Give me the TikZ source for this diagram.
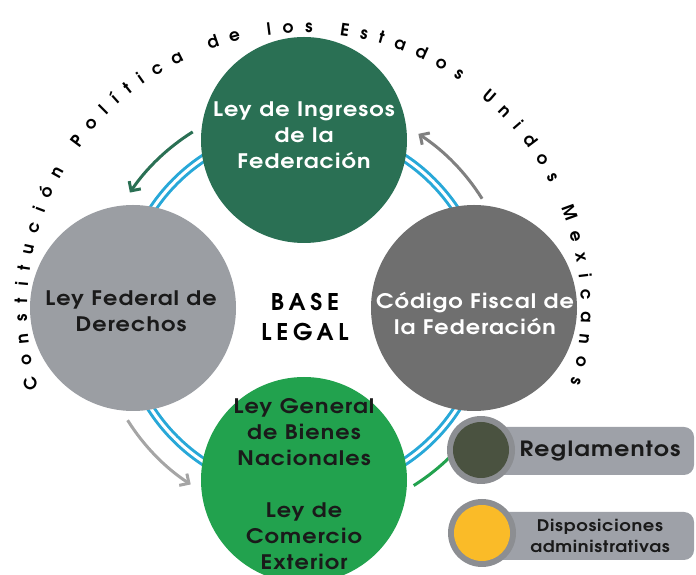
\documentclass[tikz,border=0pt]{standalone}
\usepackage{fontspec}
\setmainfont{texgyreadventor}[Extension=.otf,UprightFont=*-regular,BoldFont=*-bold,ItalicFont=*-italic,BoldItalicFont=*-bolditalic]
\usetikzlibrary{decorations.text,arrows.meta}
\definecolor{topgreen}{HTML}{2A7054}
\definecolor{leftgrey}{HTML}{9B9EA3}
\definecolor{rightgrey}{HTML}{6F6F6F}
\definecolor{botgreen}{HTML}{22A24E}
\definecolor{ringblue}{HTML}{28A8D8}
\definecolor{arrgreyA}{HTML}{808080}
\definecolor{arrgreyB}{HTML}{A5A5A5}
\definecolor{pillgrey}{HTML}{9EA1A8}
\definecolor{ringgrey}{HTML}{8C8E92}
\definecolor{olivedark}{HTML}{4A5240}
\definecolor{legyellow}{HTML}{FABB28}
\definecolor{inkdark}{HTML}{1A1A1A}
\begin{document}
\begin{tikzpicture}[x=1pt,y=1pt,
  bigc/.style={circle,inner sep=0pt,minimum size=206pt},
  ctext/.style={align=center,inner sep=0pt,xscale=1.12,font=\bfseries\fontsize{20}{26}\selectfont\addfontfeature{LetterSpace=5}},
  cyc/.style={line width=3pt,-{Straight Barb[length=7pt,width=14pt]}},
  pill/.style={fill=pillgrey,rounded corners=10pt,minimum width=213pt,minimum height=48pt,inner sep=0pt},
  legring/.style={circle,fill=ringgrey,minimum size=68pt,inner sep=0pt},
  legdot/.style={circle,minimum size=56pt,inner sep=0pt}]
\useasboundingbox (0,0) rectangle (696,575);
\coordinate (O) at (304,265);
% arc text
\path[decorate,decoration={text along path,text align=fit to path,
  text={|\bfseries\fontsize{17}{17}\selectfont|Constitución Política de los Estados Unidos Mexicanos}}]
  ([shift={(196.5:277)}]O) arc[start angle=196.5,end angle=-15.5,radius=277];
% ring
\draw[ringblue,line width=9pt] (O) circle[radius=182];
\draw[white,line width=3pt] (O) circle[radius=182];
% arrows
\draw[cyc,topgreen] ([shift={(122:210)}]O) arc[start angle=122,end angle=146,radius=210];
\draw[cyc,arrgreyA] ([shift={(32:210)}]O) arc[start angle=32,end angle=57,radius=210];
\draw[cyc,arrgreyB] ([shift={(212:208)}]O) arc[start angle=212,end angle=237,radius=208];
\draw[cyc,botgreen] ([shift={(302:207)}]O) arc[start angle=302,end angle=322,radius=207];
% circles
\node[bigc,fill=topgreen] (lif) at (304,435) {};
\node[bigc,fill=leftgrey] (lfd) at (133,267) {};
\node[bigc,fill=rightgrey] (cff) at (474,267) {};
\node[bigc,fill=botgreen] (lgb) at (304,95) {};
\node[ctext,text=white] (liftxt) at (304,440) {Ley de Ingresos\\de la\\Federación};
\node[ctext,text=inkdark] (lfdtxt) at (131,264) {Ley Federal de\\Derechos};
\node[ctext,text=white] (cfftxt) at (475,262) {Código Fiscal de\\la Federación};
\node[ctext,text=inkdark] (lgbtxt) at (304,91) {Ley General\\de Bienes\\Nacionales\\[26pt]Ley de\\Comercio\\Exterior};
\node[align=center,inner sep=0pt,font=\bfseries\fontsize{23}{30}\selectfont\addfontfeature{LetterSpace=21}] (base) at (305,258) {BASE\\LEGAL};
% legend
\node[pill] (regpill) at (587.5,124) {};
\node[legring] (regring) at (481,125) {};
\node[legdot,fill=olivedark] (regdot) at (481,125) {};
\node[xscale=1.12,font=\bfseries\fontsize{21}{21}\selectfont\addfontfeature{LetterSpace=5},text=inkdark,inner sep=0pt] (regtxt) at (600,124) {Reglamentos};
\node[pill] (dispill) at (587.5,39) {};
\node[legring] (disring) at (482,42) {};
\node[legdot,fill=legyellow] (disdot) at (482,42) {};
\node[align=center,xscale=1.12,font=\bfseries\fontsize{16}{21}\selectfont\addfontfeature{LetterSpace=4},text=inkdark,inner sep=0pt] (distxt) at (600,39) {Disposiciones\\administrativas};
\end{tikzpicture}
\end{document}
